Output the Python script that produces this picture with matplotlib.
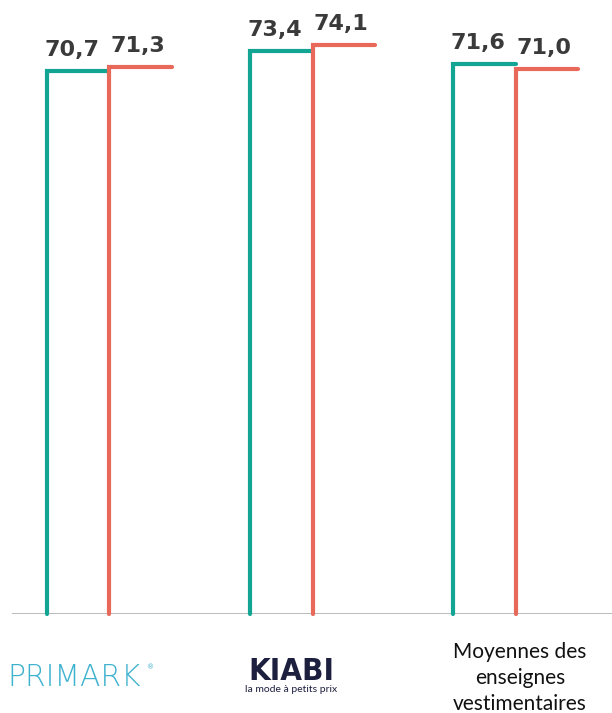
import numpy as np
import matplotlib.pyplot as plt

groups = ["PRIMARK", "KIABI", "Moyennes des\nenseignes\nvestimentaires"]
serie_a = [70.7, 73.4, 71.6]   # teal
serie_b = [71.3, 74.1, 71.0]   # coral
labels_a = ["70,7", "73,4", "71,6"]
labels_b = ["71,3", "74,1", "71,0"]

teal = "#12a594"
coral = "#e8685a"
dark = "#3a3a3a"

fig = plt.figure(figsize=(6.12, 7.13), dpi=100)
ax = fig.add_axes([0.0196, 0.139, 0.9804, 0.861])
ax.set_xlim(-0.48, 2.475)
ax.set_ylim(0, 80)
ax.axis("off")

w = 0.31
x = np.arange(len(groups))
for i in range(len(groups)):
    xa = x[i] - w
    xb = x[i]
    ax.plot([xa, xa, xb], [0, serie_a[i], serie_a[i]], color=teal, lw=3,
            solid_capstyle="round", solid_joinstyle="miter", clip_on=False)
    ax.plot([xb, xb, xb + w], [0, serie_b[i], serie_b[i]], color=coral, lw=3,
            solid_capstyle="round", solid_joinstyle="miter", clip_on=False)
    ax.annotate(labels_a[i], (xa + w / 2 - 0.03, serie_a[i]), xytext=(0, 8),
                textcoords="offset points", ha="center", va="bottom",
                fontsize=16, fontweight="bold", color=dark, family="DejaVu Sans")
    ax.annotate(labels_b[i], (xb + w / 2 - 0.015, serie_b[i]), xytext=(0, 8),
                textcoords="offset points", ha="center", va="bottom",
                fontsize=16, fontweight="bold", color=dark, family="DejaVu Sans")

ax.axhline(0, color="#b4b4b4", lw=2, zorder=0)

# category labels
fig.text(74 / 612, 1 - 678 / 713, "PRIMARK", ha="center", va="center",
         fontsize=21.5, color="#3fb2cf", family="DejaVu Sans", fontweight="light")
fig.text(151 / 612, 1 - 667 / 713, "®", ha="center", va="center",
         fontsize=5, color="#3fb2cf")
fig.text(291 / 612, 1 - 671 / 713, "KIABI", ha="center", va="center",
         fontsize=22.5, color="#1c1f3e", family="DejaVu Sans", fontweight="bold",
         fontstretch="condensed")
fig.text(291 / 612, 1 - 689 / 713, "la mode à petits prix", ha="center",
         va="center", fontsize=7.5, color="#1c1f3e", family="Lato")
fig.text(520 / 612, 1 - 678 / 713, groups[2], ha="center", va="center",
         fontsize=15, color="#111111", family="Lato", linespacing=1.4)

fig.savefig("out.png", dpi=100)
